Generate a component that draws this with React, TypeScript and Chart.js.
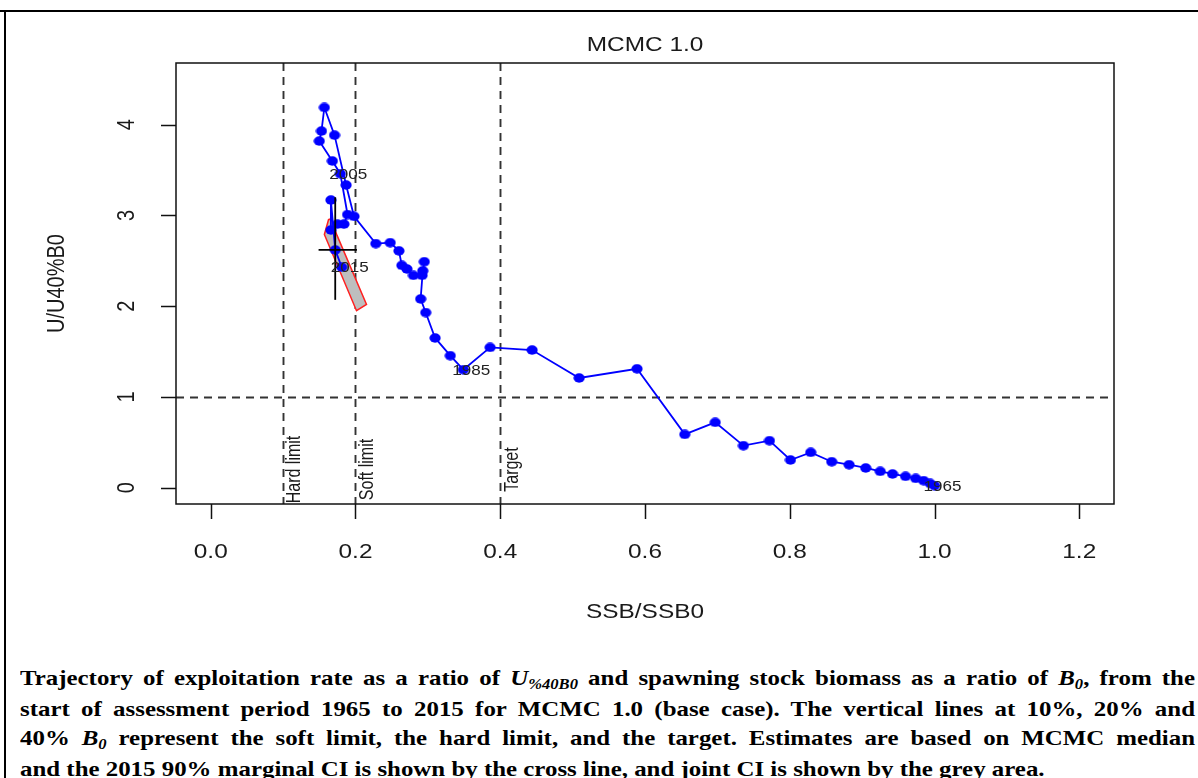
import React, { useEffect, useRef } from "react";
import { Chart, registerables } from "chart.js";

Chart.register(...registerables);

// ---- data ----
const ssbRatio = [
  1.0, 0.994, 0.985, 0.974, 0.96, 0.942, 0.925, 0.905, 0.882, 0.858,
  0.829, 0.801, 0.772, 0.736, 0.697, 0.655, 0.589, 0.509, 0.444, 0.386,
  0.349, 0.331, 0.31, 0.297, 0.29, 0.293, 0.295, 0.292, 0.28, 0.271,
  0.264, 0.26, 0.248, 0.228, 0.198, 0.187, 0.171, 0.157, 0.153, 0.15,
  0.168, 0.179, 0.189, 0.184, 0.175, 0.166, 0.166, 0.172, 0.181,
];
const uRatio = [
  0.022, 0.047, 0.077, 0.102, 0.125, 0.151, 0.18, 0.217, 0.253, 0.286,
  0.389, 0.305, 0.518, 0.463, 0.72, 0.587, 1.31, 1.209, 1.517, 1.546,
  1.3, 1.455, 1.65, 1.93, 2.08, 2.39, 2.49, 2.34, 2.34, 2.41,
  2.45, 2.61, 2.7, 2.69, 2.99, 3.335, 3.885, 4.19, 3.93, 3.82,
  3.6, 3.46, 3.01, 2.905, 2.905, 2.84, 3.17, 2.62, 2.43,
];
const yearLabels = ["1965", "1985", "2005", "2015"];
const yearLabelIndex = [0, 20, 41, 48];

const jointCiSsb = [0.163, 0.157, 0.2014, 0.2152, 0.1745, 0.167, 0.163];
const jointCiU = [2.96, 2.79, 1.95, 2.02, 2.78, 2.95, 2.96];

const medianSsb2015 = 0.172;
const medianU2015 = 2.62;
const marginalSsbCi = [0.149, 0.202];
const marginalUCi = [2.07, 3.2];

const refLinesX = [0.1, 0.2, 0.4];
const refLabels = ["Hard limit", "Soft limit", "Target"];
const refLabelY = 0.2;
const refLineY = 1;

const xTicks = [0, 0.2, 0.4, 0.6, 0.8, 1.0, 1.2];
const xTickLabels = ["0.0", "0.2", "0.4", "0.6", "0.8", "1.0", "1.2"];
const yTicks = [0, 1, 2, 3, 4];
const yTickLabels = ["0", "1", "2", "3", "4"];

const xRange = [-0.048, 1.248];
const yRange = [-0.18, 4.68];

const chartTitle = "MCMC 1.0";
const xTitle = "SSB/SSB0";
const yTitle = "U/U40%B0";

const SANS = '"Liberation Sans", Arial, sans-serif';
const STRETCH = 1.22; // the reference is horizontally widened

function drawText(ctx: CanvasRenderingContext2D, text: string, x: number, y: number, rotate = false) {
  ctx.save();
  ctx.translate(x, y);
  ctx.scale(STRETCH, 1);
  if (rotate) ctx.rotate(-Math.PI / 2);
  ctx.fillText(text, 0, 0);
  ctx.restore();
}

function makeDot(): HTMLCanvasElement {
  const c = document.createElement("canvas");
  c.width = 12;
  c.height = 10;
  const g = c.getContext("2d")!;
  g.fillStyle = "#0000ff";
  g.beginPath();
  g.ellipse(6, 5, 5.6, 4.7, 0, 0, Math.PI * 2);
  g.fill();
  return c;
}

const rStylePlugin = {
  id: "rstyle",
  beforeDatasetsDraw(chart: any) {
    const { ctx, chartArea: a, scales } = chart;
    const x = scales.x;
    const y = scales.y;
    ctx.save();
    ctx.strokeStyle = "#333";
    ctx.lineWidth = 1.9;
    ctx.setLineDash([8, 6]);
    refLinesX.forEach((v) => {
      const px = Math.round(x.getPixelForValue(v)) + 0.5;
      ctx.beginPath();
      ctx.moveTo(px, a.top);
      ctx.lineTo(px, a.bottom);
      ctx.stroke();
    });
    const py = Math.round(y.getPixelForValue(refLineY)) + 0.5;
    ctx.beginPath();
    ctx.moveTo(a.left, py);
    ctx.lineTo(a.right, py);
    ctx.stroke();
    ctx.restore();
  },
  afterDraw(chart: any) {
    const { ctx, chartArea: a, scales } = chart;
    const x = scales.x;
    const y = scales.y;
    ctx.save();
    // box
    ctx.strokeStyle = "#111";
    ctx.lineWidth = 1.5;
    ctx.setLineDash([]);
    ctx.strokeRect(a.left, a.top, a.right - a.left, a.bottom - a.top);
    // ticks
    const tl = 15;
    ctx.beginPath();
    xTicks.forEach((v) => {
      const px = Math.round(x.getPixelForValue(v)) + 0.5;
      ctx.moveTo(px, a.bottom);
      ctx.lineTo(px, a.bottom + tl);
    });
    yTicks.forEach((v) => {
      const py = Math.round(y.getPixelForValue(v)) + 0.5;
      ctx.moveTo(a.left, py);
      ctx.lineTo(a.left - tl, py);
    });
    ctx.stroke();

    ctx.fillStyle = "#1a1a1a";
    ctx.textAlign = "center";
    ctx.textBaseline = "middle";
    ctx.font = `20px ${SANS}`;
    xTicks.forEach((v, i) => {
      drawText(ctx, xTickLabels[i], x.getPixelForValue(v), a.bottom + 48);
    });
    yTicks.forEach((v, i) => {
      drawText(ctx, yTickLabels[i], a.left - 49, y.getPixelForValue(v), true);
    });
    // titles
    const cx = (a.left + a.right) / 2;
    const cy = (a.top + a.bottom) / 2;
    drawText(ctx, chartTitle, cx, a.top - 18);
    drawText(ctx, xTitle, cx, a.bottom + 108);
    drawText(ctx, yTitle, a.left - 119, cy, true);

    // reference labels
    ctx.font = `16px ${SANS}`;
    refLinesX.forEach((v, i) => {
      drawText(ctx, refLabels[i], x.getPixelForValue(v) + 12, y.getPixelForValue(refLabelY), true);
    });

    // year labels
    ctx.font = `14px ${SANS}`;
    ctx.fillStyle = "#222";
    yearLabelIndex.forEach((idx, i) => {
      const px = x.getPixelForValue(ssbRatio[idx]);
      const py = y.getPixelForValue(uRatio[idx]);
      drawText(ctx, yearLabels[i], px + 8, py + 1);
    });
    ctx.restore();
  },
};

function TrajectoryChart() {
  const ref = useRef<HTMLCanvasElement | null>(null);
  useEffect(() => {
    if (!ref.current) return;
    const dot = makeDot();
    const chart = new Chart(ref.current, {
      type: "line",
      data: {
        datasets: [
          {
            data: marginalSsbCi.map((v) => ({ x: v, y: medianU2015 })),
            borderColor: "#000",
            borderWidth: 1.8,
            pointRadius: 0,
            fill: false,
            tension: 0,
          },
          {
            data: marginalUCi.map((v) => ({ x: medianSsb2015, y: v })),
            borderColor: "#000",
            borderWidth: 1.8,
            pointRadius: 0,
            fill: false,
            tension: 0,
          },
          {
            data: ssbRatio.map((v, i) => ({ x: v, y: uRatio[i] })),
            borderColor: "#0000ff",
            backgroundColor: "#0000ff",
            pointStyle: dot,
            pointRadius: 5,
            borderWidth: 1.8,
            fill: false,
            tension: 0,
          },
          {
            data: jointCiSsb.map((v, i) => ({ x: v, y: jointCiU[i] })),
            borderColor: "#ff2020",
            backgroundColor: "#bebebe",
            borderWidth: 1.5,
            pointRadius: 0,
            fill: "shape",
            tension: 0,
          },
        ],
      },
      options: {
        animation: false,
        responsive: false,
        events: [],
        layout: { padding: { left: 176, right: 84, top: 63, bottom: 146 } },
        scales: {
          x: { type: "linear", min: xRange[0], max: xRange[1], display: false },
          y: { type: "linear", min: yRange[0], max: yRange[1], display: false },
        },
        plugins: {
          legend: { display: false },
          tooltip: { enabled: false },
          title: { display: false },
        },
      },
      plugins: [rStylePlugin],
    } as any);
    return () => chart.destroy();
  }, []);
  return (
    <canvas
      ref={ref}
      width={1198}
      height={650}
      style={{ position: "absolute", left: 0, top: 0, width: 1198, height: 650 }}
    />
  );
}

const CAP_STRETCH = 1.185;
const justLine: React.CSSProperties = { textAlign: "justify", textAlignLast: "justify" };
const subStyle: React.CSSProperties = { fontSize: "14px", position: "relative", top: "4px", verticalAlign: "baseline" };

export default function App() {
  return (
    <div
      style={{
        position: "absolute",
        left: 0,
        top: 0,
        width: 1198,
        height: 778,
        overflow: "hidden",
        background: "#fff",
      }}
    >
      <div style={{ position: "absolute", left: 0, top: 10, width: 1198, height: 2, background: "#000" }} />
      <div style={{ position: "absolute", left: 4, top: 10, width: 2, height: 800, background: "#000" }} />
      <TrajectoryChart />
      <div
        style={{
          position: "absolute",
          left: 20,
          top: 664,
          width: 1175 / CAP_STRETCH,
          transform: `scaleX(${CAP_STRETCH})`,
          transformOrigin: "0 0",
          font: 'bold 21px "Liberation Serif", "Times New Roman", serif',
          lineHeight: "29px",
          color: "#000",
          whiteSpace: "nowrap",
        }}
      >
        <div style={justLine}>
          Trajectory of exploitation rate as a ratio of <i>U<span style={subStyle}>%40B0</span></i> and spawning
          stock biomass as a ratio of <i>B<span style={subStyle}>0</span></i>, from the
        </div>
        <div style={justLine}>
          start of assessment period 1965 to 2015 for MCMC 1.0 (base case). The vertical lines at 10%, 20% and
        </div>
        <div style={justLine}>
          40% <i>B<span style={subStyle}>0</span></i> represent the soft limit, the hard limit, and the target.
          Estimates are based on MCMC median
        </div>
        <div>
          and the 2015 90% marginal CI is shown by the cross line, and joint CI is shown by the grey area.
        </div>
      </div>
    </div>
  );
}
